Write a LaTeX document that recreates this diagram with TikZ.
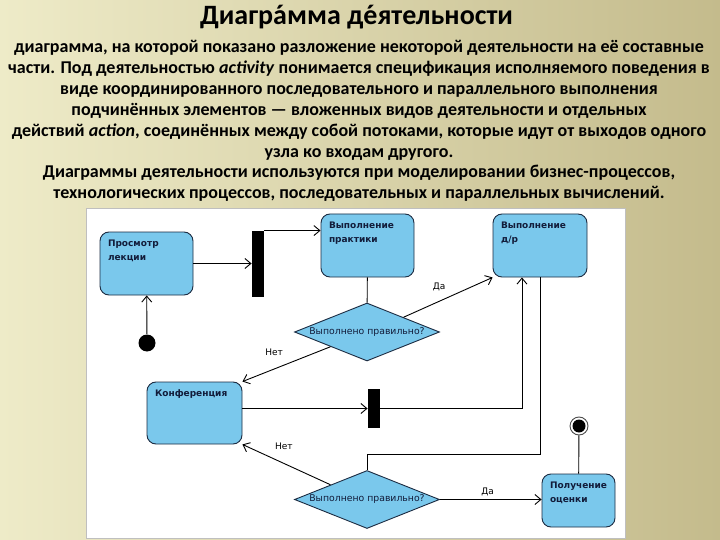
\documentclass[tikz,border=0pt]{standalone}
\usepackage{fontspec}
\setmainfont{Carlito}
\newfontfamily\diagfont{DejaVu Sans}
\usetikzlibrary{positioning,shapes.geometric,arrows.meta,calc}
\definecolor{boxfill}{RGB}{122,200,236}
\definecolor{boxline}{RGB}{28,44,66}
\definecolor{boxtext}{RGB}{18,28,58}
\definecolor{bgleft}{RGB}{238,235,200}
\definecolor{bgright}{RGB}{196,187,140}
\newcommand{\acttext}[3]{\parbox[c][#2][t]{#1}{#3}}
\newcommand{\stressmark}[1]{\ooalign{#1\cr\hidewidth´\hidewidth\cr}}

\begin{document}
\begin{tikzpicture}[x=1pt, y=-1pt, line width=0.9pt,
    >={Straight Barb[length=6pt,width=10pt]},
    activity/.style={rectangle, rounded corners=9pt, draw=boxline, fill=boxfill, inner sep=8pt, text=boxtext, font=\diagfont\bfseries\fontsize{9}{14}\selectfont},
    decision/.style={diamond, draw=boxline, fill=boxfill, inner sep=0pt, minimum width=145pt, minimum height=58pt, text=boxtext, font=\diagfont\fontsize{9.3}{11}\selectfont},
    bar/.style={rectangle, fill=black, inner sep=0pt, minimum width=12pt},
    start/.style={circle, fill=black, inner sep=0pt, minimum size=17pt},
    final/.style={circle, draw=black!70, fill=white, inner sep=0pt, minimum size=18pt, path picture={\fill[black] (path picture bounding box.center) circle (6.5pt);}},
    guard/.style={font=\diagfont\fontsize{9}{11}\selectfont}]%
    \useasboundingbox (0,0) rectangle (720,540);
    \fill[left color=bgleft, right color=bgright] (0,0) rectangle (720,540);
    \draw[gray!50, fill=white, line width=0.6pt] (86,208) rectangle (625,538);
    \node (title) [anchor=base] at (356.5,25) {\fontsize{28}{30}\selectfont\bfseries Диагр\stressmark{а}мма д\stressmark{е}ятельности};
    \node (intro) [anchor=north, align=center, font=\bfseries\fontsize{18}{20.9}\selectfont] at (359,36.5) {диаграмма, на которой показано разложение некоторой деятельности на её составные\\
        части. Под деятельностью \textit{activity} понимается спецификация исполняемого поведения в\\
        виде координированного последовательного и параллельного выполнения\\
        подчинённых элементов — вложенных видов деятельности и отдельных\\
        действий \textit{action}, соединённых между собой потоками, которые идут от выходов одного\\
        узла ко входам другого.\\
        Диаграммы деятельности используются при моделировании бизнес-процессов,\\
        технологических процессов, последовательных и параллельных вычислений.};
    \node (1) [activity] at (146.5,263.5) {\acttext{77pt}{47pt}{Просмотр\\лекции}};
    \node (2) [start] at (147,343) {};
    \node (3) [bar, minimum height=66pt] at (258,264) {};
    \node (4) [activity] at (367.5,245.5) {\acttext{77pt}{47pt}{Выполнение\\практики}};
    \node (5) [decision] at (367,332) {\makebox[0pt]{Выполнено правильно?}};
    \node (6) [activity] at (540,245.5) {\acttext{78pt}{47pt}{Выполнение\\д/р}};
    \node (7) [activity] at (194.5,413) {\acttext{79pt}{46pt}{Конференция}};
    \node (8) [bar, minimum height=39pt] at (374,408.5) {};
    \node (9) [decision] at (367,499.5) {\makebox[0pt]{Выполнено правильно?}};
    \node (10) [activity] at (578.5,500.5) {\acttext{57pt}{37pt}{Получение\\оценки}};
    \node (11) [final] at (579,426) {};
    \draw[->] (2) -- (1);
    \draw[->] (1.east) -- (1.east -| 3.west);
    \draw[->] (3.north east) -- (3.north east -| 4.west);
    \draw (4) -- (5);
    \draw[->] (5.north east) -- node [pos=0.4, above=7pt, guard] {Да} (6.south west);
    \draw[->] (5.south west) -- node [pos=0.64, above=10pt, guard] {Нет} (7.north east);
    \draw[->] (7.east |- 8) -- (8);
    \draw[->] (8) -| ($(6.south west)!0.31!(6.south east)$);
    \draw (6.south) -- ++(0,177) -| (9);
    \draw[->] (9.north west) -- node [pos=0.53, above=10pt, guard] {Нет} (7.south east);
    \draw[->] (9) -- node [pos=0.47, above, guard] {Да} (9 -| 10.west);
    \draw (10) -- (11);
\end{tikzpicture}
\end{document}
